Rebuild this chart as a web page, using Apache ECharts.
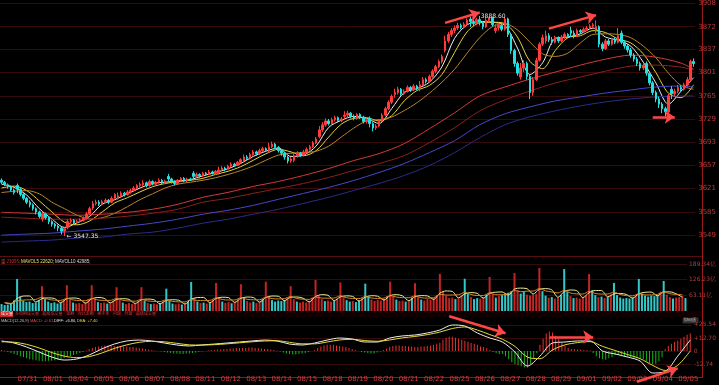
<!DOCTYPE html>
<html><head><meta charset="utf-8">
<script src="https://cdn.jsdelivr.net/npm/echarts@6/dist/echarts.min.js"></script>
<style>html,body{margin:0;padding:0;background:#000;}#c{width:719px;height:385px;}</style>
</head><body><div id="c"></div>
<script>
// ---------- data ----------
const dateLabels = ['07/30','07/31','08/01','08/04','08/05','08/06','08/07','08/08','08/11','08/12','08/13','08/14','08/15','08/18','08/19','08/20','08/21','08/22','08/25','08/26','08/27','08/28','08/29','09/01','09/02','09/03','09/04','09/05'];
const barsFirstDay = 5, barsPerDay = 8;

// [open, close, low, high] – 30 minute bars
const kline = [
[3634,3631,3628,3637],[3631,3627,3625,3633],[3627,3624,3621,3629],[3624,3619,3617,3626],[3619,3615,3612,3621],
[3626,3620,3614,3629],[3620,3612,3609,3622],[3612,3606,3603,3614],[3606,3600,3597,3608],[3600,3596,3592,3603],[3596,3590,3587,3598],[3590,3585,3581,3592],[3585,3578,3575,3587],
[3574,3582,3570,3585],[3582,3576,3573,3584],[3576,3570,3566,3578],[3570,3566,3562,3572],[3566,3563,3559,3568],[3563,3560,3555,3565],[3560,3555,3550,3562],[3555,3559,3547.35,3561],
[3561,3570,3558,3573],[3570,3572,3567,3575],[3572,3568,3565,3574],[3568,3570,3566,3573],[3570,3572,3568,3575],[3572,3575,3570,3578],[3575,3582,3573,3585],[3582,3590,3580,3593],
[3591,3598,3588,3602],[3598,3600,3595,3604],[3600,3597,3594,3603],[3597,3601,3595,3604],[3601,3603,3598,3606],[3603,3600,3597,3605],[3600,3606,3599,3609],[3606,3612,3604,3614],
[3608,3610,3604,3615],[3610,3614,3608,3617],[3614,3612,3609,3616],[3612,3616,3610,3619],[3616,3618,3613,3621],[3618,3622,3616,3625],[3622,3626,3620,3628],[3626,3628,3623,3631],
[3627,3630,3624,3634],[3630,3626,3623,3632],[3626,3632,3624,3635],[3632,3628,3626,3634],[3628,3631,3626,3633],[3631,3634,3629,3637],[3634,3630,3628,3636],[3630,3633,3628,3635],
[3640,3636,3632,3644],[3636,3632,3629,3638],[3632,3629,3626,3634],[3629,3634,3627,3636],[3634,3637,3632,3639],[3637,3633,3631,3639],[3633,3636,3631,3638],[3636,3635,3633,3638],
[3645,3640,3636,3648],[3640,3643,3638,3646],[3643,3641,3638,3645],[3641,3645,3639,3647],[3645,3644,3641,3647],[3644,3647,3642,3650],[3647,3645,3643,3649],[3645,3648,3643,3650],
[3646,3650,3643,3655],[3650,3653,3648,3656],[3653,3651,3648,3655],[3651,3656,3650,3658],[3656,3659,3654,3662],[3659,3657,3655,3661],[3657,3662,3656,3664],[3662,3666,3660,3668],
[3664,3670,3662,3674],[3670,3668,3665,3673],[3668,3674,3666,3677],[3674,3678,3672,3681],[3678,3675,3672,3680],[3675,3680,3673,3683],[3680,3683,3678,3686],[3683,3681,3678,3685],
[3680,3686,3677,3692],[3686,3690,3684,3694],[3690,3685,3682,3692],[3685,3680,3677,3687],[3680,3676,3672,3682],[3676,3670,3666,3678],[3670,3664,3660,3672],[3664,3667,3661,3670],
[3665,3672,3662,3676],[3672,3676,3669,3679],[3676,3673,3670,3678],[3673,3678,3671,3681],[3678,3682,3676,3685],[3682,3686,3680,3689],[3686,3692,3684,3695],[3692,3698,3690,3701],
[3702,3712,3699,3718],[3712,3720,3709,3724],[3720,3726,3717,3730],[3726,3722,3719,3729],[3722,3728,3720,3731],[3728,3731,3725,3734],[3731,3727,3724,3733],[3727,3729,3724,3732],
[3733,3735,3728,3741],[3735,3738,3732,3742],[3738,3733,3730,3740],[3733,3730,3727,3736],[3730,3736,3728,3738],[3736,3732,3729,3738],[3732,3725,3722,3734],[3725,3728,3722,3730],
[3730,3722,3716,3733],[3722,3715,3710,3724],[3715,3718,3712,3721],[3718,3726,3716,3729],[3726,3735,3724,3738],[3735,3745,3733,3748],[3745,3755,3743,3758],[3755,3764,3752,3767],
[3767,3770,3762,3776],[3770,3775,3767,3779],[3775,3768,3765,3777],[3768,3772,3766,3775],[3772,3778,3770,3781],[3778,3774,3771,3780],[3774,3780,3772,3783],[3780,3776,3773,3782],
[3778,3782,3772,3788],[3782,3790,3780,3794],[3790,3787,3784,3793],[3787,3795,3785,3798],[3795,3803,3793,3806],[3803,3810,3800,3813],[3810,3818,3808,3821],[3818,3826,3815,3829],
[3835,3850,3832,3858],[3850,3860,3847,3864],[3860,3866,3856,3870],[3866,3870,3862,3874],[3870,3874,3867,3878],[3874,3871,3868,3877],[3871,3876,3869,3879],[3876,3882,3874,3885],
[3884,3880,3872,3887],[3880,3877,3873,3883],[3877,3883,3875,3886],[3883,3879,3874,3888.6],[3879,3872,3868,3881],[3872,3882,3870,3886],[3882,3886,3879,3887],[3886,3875,3872,3887],
[3866,3870,3862,3876],[3870,3874,3866,3878],[3874,3868,3865,3877],[3868,3884,3866,3887],[3884,3860,3856,3886],[3860,3835,3830,3862],[3835,3815,3810,3838],[3815,3800,3796,3818],
[3794,3808,3790,3816],[3808,3815,3802,3820],[3815,3795,3790,3818],[3795,3770,3760,3798],[3770,3790,3765,3794],[3790,3820,3788,3824],[3820,3845,3818,3848],[3845,3855,3842,3860],
[3850,3858,3846,3866],[3858,3852,3848,3862],[3852,3848,3844,3856],[3848,3855,3846,3858],[3855,3850,3847,3857],[3850,3856,3848,3859],[3856,3860,3853,3863],[3860,3857,3854,3862],
[3866,3862,3856,3872],[3862,3858,3854,3866],[3858,3866,3856,3869],[3866,3864,3861,3868],[3864,3868,3862,3871],[3868,3870,3865,3873],[3870,3873,3867,3876],[3873,3875,3870,3878],
[3868,3872,3862,3882],[3872,3845,3840,3874],[3845,3838,3834,3848],[3838,3850,3836,3853],[3850,3845,3842,3853],[3845,3852,3843,3855],[3852,3848,3845,3856],[3848,3858,3846,3870],
[3862,3848,3845,3866],[3848,3842,3838,3851],[3842,3836,3832,3845],[3836,3828,3824,3839],[3828,3822,3818,3831],[3822,3815,3811,3825],[3815,3808,3804,3818],[3808,3812,3805,3815],
[3815,3800,3796,3818],[3800,3785,3781,3803],[3785,3770,3766,3788],[3770,3760,3755,3773],[3760,3752,3746,3764],[3752,3745,3738,3755],[3745,3740,3733,3748],[3740,3765,3738,3768],
[3775,3768,3760,3780],[3768,3772,3764,3776],[3772,3778,3769,3782],[3778,3775,3771,3781],[3775,3782,3773,3785],[3782,3790,3780,3794],[3790,3818,3788,3821],[3818,3815,3810,3823]
];

// volume (亿)
const volume = [
28,24,26,30,42,
129,58,42,36,38,32,34,44,
100,48,38,32,35,30,33,45,
104,46,34,30,32,28,34,48,
104,50,36,32,34,30,32,42,
96,44,34,28,32,28,30,40,
96,42,32,28,30,27,29,38,
90,40,30,27,30,26,28,36,
117,52,38,32,34,30,32,44,
113,50,38,33,36,31,35,46,
108,52,40,34,38,32,36,48,
118,56,44,38,42,40,44,52,
100,48,38,34,38,34,40,54,
125,62,48,40,42,38,40,50,
115,56,44,38,40,36,42,52,
110,58,46,40,44,42,48,60,
118,58,46,40,42,38,42,54,
112,56,46,42,48,46,52,64,
150,78,60,52,54,48,52,62,
130,70,56,48,52,50,54,66,
137,68,54,60,64,70,74,80,
153,84,70,78,66,62,66,70,
173,80,62,54,56,50,54,64,
169,76,60,52,54,50,54,62,
149,84,64,56,58,52,56,66,
113,64,54,50,52,50,54,62,
129,70,62,58,62,60,64,78,
121,66,56,50,54,56,62,52
];
// MAVOL lines, read at every odd bar (1,3,5,...,219)
const mavol5 = [33,29,
50.2,60.2,60.6,36.4, 49.6,52.8,50.6,33.6, 49.4,52.4,49.2,31.6, 49.2,54.4,51.2,32.8, 46.8,49.6,46.8,30.4,
45.2,48,45.6,29.2, 42.8,45.4,43.4,28.2, 47.4,54.2,54.6,33.2, 50.6,55.4,54,34.6, 51.2,56.2,54.4,36,
54.4,60.4,59.6,41.6, 55.6,56.4,51.6,36.8, 58.2,65.8,63.4,41.6, 57,61,58.6,40, 56,61.6,59.6,44,
62.4,66,60.8,41.6, 57.6,62,60.8,46.8, 72,80.8,78.8,53.2, 69.2,74,71.2,52, 71.8,75.8,76.6,64.4,
88.2,92.2,90.2,68.4, 87.4,90.2,85,55.2, 78.6,84.6,82.2,54, 73.8,82.6,82.2,57.2, 69,70.6,66.6,52,
69.4,75.4,76.2,61.2, 77,77,69.4,55.6];
const mavol10 = [34,31,
40,44,45.3,46.7, 55.5,47,43.7,42.6, 50.9,44.5,42.1,41.6, 50.5,44.2,42.8,42.8, 50.4,43,40.4,39.6,
47,40.6,38.6,38.2, 45.2,38.6,36.9,36.5, 46.2,42.4,42,42.7, 52.8,46.3,44.2,44.2, 53.4,46.9,45.3,45.2,
55.2,49.8,48.6,49.8, 58.2,50.2,47.4,46.8, 56.3,52.1,51.7,52.3, 61.4,53.5,50.3,49.9, 58.3,52.2,50.6,51.8,
61.8,56,53.8,53.4, 61,53.4,52,53.6, 67,64.2,64.6,65.6, 75,66.2,62.4,62.2, 72.5,65.5,65.3,69.7,
82.6,77.7,79.9,80.3, 90.2,81.1,76.7,72.7, 83.2,72.5,68.9,68.3, 79,70.5,68.3,68.5, 76,66.7,62.1,61.1,
69.4,64.7,64.9,67.1, 76.6,69.7,66.9,66.7];

// short price MAs, read every 4th bar (0,4,...,220)
const ma5 = [3628,3623,3611,3590,3574,3561,3568,3578,3597,3604,3613,3622,3629,3631,3633,3635,3641,3646,3652,3660,3671,3679,3684,3671,3673,3687,3716,3727,3733,3730,3722,3745,3770,3776,3786,3810,3854,3875,3880,3879,3874,3839,3798,3816,3854,3856,3861,3870,3856,3851,3842,3817,3785,3752,3772,3793];
const ma10 = [3622,3625,3618,3602,3585,3569,3565,3571,3585,3599,3607,3616,3624,3629,3632,3634,3637,3643,3648,3655,3665,3675,3682,3678,3672,3680,3701,3721,3730,3731,3726,3734,3757,3773,3781,3798,3832,3864,3878,3879,3877,3856,3818,3807,3835,3855,3858,3866,3863,3853,3847,3830,3801,3769,3762,3782];
const ma20 = [3615,3617,3618,3613,3600,3590,3580,3574,3576,3583,3593,3604,3613,3622,3628,3631,3634,3638,3643,3649,3656,3665,3673,3676,3677,3679,3687,3701,3715,3726,3728,3732,3742,3754,3769,3786,3806,3831,3855,3872,3877,3867,3848,3830,3826,3831,3847,3860,3861,3860,3855,3842,3824,3800,3781,3775];
// long MAs, read every 8th bar (0,8,...,216) and last bar
const maRed1 = [3584.4,3582.9,3581.4,3579.8,3581.4,3584.4,3589.1,3596.8,3607.6,3615.3,3624.5,3632.2,3641.5,3652.2,3664.6,3675.4,3690.8,3713.9,3738.5,3764.7,3778.6,3790.9,3801.7,3812.5,3821.7,3827.9,3824.8,3815.6,3806.3];
const maRed2 = [3576.8,3575.2,3573.7,3573.7,3575.2,3578.3,3582.9,3589.1,3599.9,3606.0,3613.7,3621.4,3629.1,3638.4,3649.2,3659.9,3672.3,3692.3,3715.4,3741.6,3758.6,3772.4,3784.8,3794.0,3803.2,3810.9,3812.5,3809.4,3804.8];
const maBlue1 = [3549.0,3550.6,3552.1,3555.2,3558.3,3562.9,3567.5,3573.7,3581.4,3587.5,3595.2,3604.5,3613.7,3623.0,3633.8,3646.1,3660.0,3676.9,3695.4,3720.0,3737.0,3747.8,3757.0,3763.2,3769.3,3774.0,3778.6,3780.1,3778.6];
const maBlue2 = [3538.2,3539.8,3541.3,3544.4,3545.9,3550.6,3553.6,3559.8,3567.5,3573.7,3581.4,3589.1,3598.3,3607.6,3618.3,3629.1,3641.5,3656.9,3676.9,3700.0,3720.0,3732.4,3741.6,3749.3,3755.5,3760.1,3763.2,3764.7,3764.7];

// MACD, DIFF / DEA read every 4th bar, histogram every bar
const diff = [9.8,7.8,3.9,-1,-5.9,-8.8,-7.8,-3.9,2,6.8,9.8,10.7,9.8,7.8,5.9,4.9,5.9,6.8,7.8,8.8,9.8,10.7,9.8,6.8,5.9,7.8,10.7,12.7,11.7,8.8,8.8,12.7,14.7,15.6,17.6,20.5,25.4,24.4,17.6,12.7,8.8,-1,-14.7,-4.9,7.8,8.8,9.8,9.8,0,-2.9,-5.9,-9.8,-21.5,-20,-5,10.7];
const dea = [9,8.6,6.5,3,-1.5,-5,-6.5,-5.5,-2,2.5,6,8.5,9.5,9,7.5,6,5.8,6.2,7,8,9,9.8,10,8.5,7,7,8.8,10.8,11.5,10.2,9.5,10.8,12.8,14.2,16,18.5,22,23.5,20.5,16,11.5,4.5,-6,-7.5,1,6,8.2,9.2,4.5,0.5,-3.5,-7.5,-14,-19,-14,0];
const macdHist = [
1,0.5,-1,-2,-3,
-4,-5,-6,-7,-8,-8.5,-9,-9.5,
-10,-10,-9.5,-9.5,-9,-8.5,-8,-7,
-6,-5,-4,-3,-2,-1,0.5,2,
3,4,4.5,5,5.5,5.5,5,5,
5,5,4.5,4.5,4,4,3.5,3,
2.5,2,1.5,1,0.5,0,-0.5,-1,
-1.5,-2,-2.5,-2.5,-3,-3,-2.5,-2.5,
-2,-1.5,-1,-0.5,0,0.5,1,1,
1.5,1.5,2,2,2.5,2.5,3,3,
3,3,3.5,3.5,3,3,2.5,2,
2,1.5,1,0.5,-0.5,-1.5,-2.5,-3,
-3.5,-3.5,-3,-2.5,-2,-1,0,1,
3,4.5,5.5,6,6,6,5.5,5,
4.5,4,3,2,1,0,-1,-1.5,
-2,-2.5,-2.5,-1.5,-0.5,1,2.5,4,
5,5.5,5.5,5,5,4.5,4.5,4,
4,4.5,4.5,5,5.5,6,7,8,
11,13,14,14,13,12,11,10,
9,8,7,6,4.5,4,3,1,
-1,-2,-3,-3,-5,-8,-11,-13,
-14,-15,-16,-16,-13,-8,-2,6,
12,17,19,18,15,12,8,5,
3,2,2,1.5,1.5,1,1,0.5,
-2,-5,-7,-8,-8.5,-7,-6,-4,
-4,-5,-5,-5.5,-6,-6.5,-7,-7.5,
-8,-10,-12,-13,-12.5,-10,-6,2,
5,7,9,10,12,14,16,17
];

// axis tick labels
const priceTicks = [3549,3585,3621,3657,3693,3729,3765,3801,3837,3872,3908];
const volTicks = [63.11,126.23,189.34];
const macdTicks = [-12.74,0,12.70,25.54];

// red annotation arrows: [bar index, value] start -> end
const priceArrows = [[[141,3878],[152,3894]],[[174,3869],[189,3890]],[[207,3732],[214,3732]]];
const macdArrows = [[[143,34],[161,17.3]],[[175,13.7],[189,13.7]],[[203,-30],[216,-17]]];

// ---------- build ----------
const N = kline.length;
const cats = [];
const dayStart = {};
for (let i = 0; i < N; i++) {
  const d = i < barsFirstDay ? 0 : 1 + Math.floor((i - barsFirstDay) / barsPerDay);
  const slot = i < barsFirstDay ? i : (i - barsFirstDay) % barsPerDay;
  if (i === 0 || (i >= barsFirstDay && slot === 0)) dayStart[i] = true;
  cats.push(dateLabels[d] + ' ' + i);
}
const RED = '#ff3b3b', CYAN = '#24e0e0';
const every4 = a => a.map((v, k) => [Math.min(k * 4, N - 1), v]);
const every8 = a => a.map((v, k) => [Math.min(k * 8, N - 1), v]);
const odd = a => a.map((v, k) => [2 * k + 1, v]);

const volData = volume.map((v, i) => ({ value: v, itemStyle: { color: kline[i][1] >= kline[i][0] ? '#c42424' : '#33c8c8' } }));
const histData = macdHist.map(v => ({ value: v, itemStyle: { color: v >= 0 ? '#e83030' : '#18b418' } }));

const axisTxt = { color: '#b83a3a', fontSize: 7, fontFamily: 'DejaVu Sans', margin: 3 };
const splitL = { show: true, lineStyle: { color: '#340a0a', width: 1 } };
const hiddenX = gi => ({ type: 'category', gridIndex: gi, data: cats, boundaryGap: true, show: false });
const lineS = (data, color, xi, yi, w) => ({ type: 'line', data, xAxisIndex: xi, yAxisIndex: yi, showSymbol: false, symbol: 'none', smooth: 0.3, silent: true, lineStyle: { color, width: w || 1 }, z: 3 });
const arrowLine = arr => ({
  silent: true, symbol: ['none', 'arrow'], symbolSize: 10, animation: false,
  label: { show: false }, lineStyle: { color: '#ff4646', width: 2.5, type: 'solid' },
  itemStyle: { color: '#ff4646' },
  data: arr.map(a => [{ coord: a[0] }, { coord: a[1] }])
});
const tinyFont = (px, fam) => px + 'px ' + (fam || '"Liberation Sans"');

const option = {
  backgroundColor: '#000',
  animation: false,
  grid: [
    { left: 0, right: 17, top: 0, height: 255 },
    { left: 0, right: 17, top: 264, height: 47 },
    { left: 0, right: 17, top: 314, height: 71 },
    { left: 0, right: 17, top: 376, height: 1 }
  ],
  xAxis: [
    hiddenX(0), hiddenX(1), hiddenX(2),
    { type: 'category', gridIndex: 3, data: cats, boundaryGap: true, position: 'bottom',
      axisLine: { show: true, lineStyle: { color: '#8e1616', width: 1 } }, axisTick: { show: false },
      axisLabel: { color: '#d23a3a', fontSize: 7, fontFamily: 'DejaVu Sans', margin: -1, align: 'left',
        interval: (idx) => !!dayStart[idx], formatter: v => v.split(' ')[0] },
      splitLine: { show: false } }
  ],
  yAxis: [
    { type: 'value', gridIndex: 0, position: 'right', min: 3518.2, max: 3911.1,
      axisLine: { show: false }, axisTick: { show: false, customValues: priceTicks },
      axisLabel: Object.assign({ customValues: priceTicks, formatter: v => String(v) }, axisTxt),
      splitLine: splitL },
    { type: 'value', gridIndex: 1, position: 'right', min: 0, max: 189.34,
      axisLine: { show: false }, axisTick: { show: false, customValues: volTicks },
      axisLabel: Object.assign({}, axisTxt, { fontSize: 6, margin: 2, customValues: volTicks, formatter: v => v.toFixed(2) + '亿' }),
      splitLine: splitL },
    { type: 'value', gridIndex: 2, position: 'right', min: -33.2, max: 36.15,
      axisLine: { show: false }, axisTick: { show: false, customValues: macdTicks },
      axisLabel: Object.assign({}, axisTxt, { fontSize: 6, margin: 2, customValues: macdTicks, formatter: v => v === 0 ? '0' : (v > 0 ? '+' : '') + v.toFixed(2) }),
      splitLine: splitL },
    { type: 'value', gridIndex: 3, show: false }
  ],
  series: [
    { type: 'candlestick', xAxisIndex: 0, yAxisIndex: 0, data: kline, barWidth: 2, z: 4,
      itemStyle: { color: RED, color0: CYAN, borderColor: RED, borderColor0: CYAN, borderWidth: 1 },
      markPoint: { silent: true, symbol: 'rect', symbolSize: 0.1, itemStyle: { color: 'rgba(0,0,0,0)' },
        data: [
          { type: 'max', valueDim: 'highest', label: { show: true, position: 'right', distance: 1, color: '#e0e0e0', fontSize: 6, fontFamily: 'DejaVu Sans', formatter: p => p.value.toFixed(2) } },
          { type: 'min', valueDim: 'lowest', label: { show: true, position: 'right', distance: 2, color: '#e0e0e0', fontSize: 6, fontFamily: 'DejaVu Sans', formatter: p => '← ' + p.value.toFixed(2) } }
        ] },
      markLine: arrowLine(priceArrows) },
    lineS(every4(ma5), '#f0f0f0', 0, 0),
    lineS(every4(ma10), '#e6d43a', 0, 0),
    lineS(every4(ma20), '#b8862e', 0, 0),
    lineS(every8(maRed1), '#d23a3a', 0, 0),
    lineS(every8(maRed2), '#8c2020', 0, 0),
    lineS(every8(maBlue1), '#4848c8', 0, 0),
    lineS(every8(maBlue2), '#2c2c8c', 0, 0),
    { type: 'bar', xAxisIndex: 1, yAxisIndex: 1, data: volData, barWidth: 2, silent: true },
    lineS(odd(mavol5), '#ecec9a', 1, 1),
    lineS(odd(mavol10), '#d8862a', 1, 1),
    { type: 'bar', xAxisIndex: 2, yAxisIndex: 2, data: histData, barWidth: 1, silent: true },
    Object.assign(lineS(every4(diff), '#eeeeee', 2, 2), { markLine: arrowLine(macdArrows) }),
    lineS(every4(dea), '#e4dc3c', 2, 2)
  ],
  graphic: [
    { type: 'line', shape: { x1: 702.5, y1: 0, x2: 702.5, y2: 378 }, style: { stroke: '#9a1a1a', lineWidth: 1 }, silent: true },
    { type: 'line', shape: { x1: 0, y1: 256.5, x2: 702, y2: 256.5 }, style: { stroke: '#5a0d0d', lineWidth: 1 }, silent: true },
    // volume header
    { type: 'text', x: 1, y: 259, style: { text: '量 23095;', fill: '#e23434', font: tinyFont(4.5, '"Noto Sans CJK SC"') } },
    { type: 'text', x: 21, y: 259, style: { text: 'MAVOL5 22620;', fill: '#e8e070', font: tinyFont(4.5) } },
    { type: 'text', x: 55, y: 259, style: { text: 'MAVOL10 42985;', fill: '#d8d8d8', font: tinyFont(4.5) } },
    // tab bar
    { type: 'rect', shape: { x: 0, y: 311, width: 702, height: 6 }, style: { fill: '#120000' } },
    { type: 'rect', shape: { x: 0, y: 311, width: 13, height: 6 }, style: { fill: '#c62020' } },
    { type: 'text', x: 1, y: 311.5, style: { text: '成交量', fill: '#ffffff', font: tinyFont(4, '"Noto Sans CJK SC"') } },
    { type: 'text', x: 15, y: 311.5, style: { text: '多周期成交量    超级成交量    金额    对比金额    换手率    内盘    外盘    超级成交量', fill: '#d03a3a', font: tinyFont(4, '"Noto Sans CJK SC"') } },
    // MACD header
    { type: 'text', x: 1, y: 318.5, style: { text: 'MACD(12,26,9)', fill: '#bdbdbd', font: tinyFont(4) } },
    { type: 'text', x: 30, y: 318.5, style: { text: 'MACD: -0.61,', fill: '#e24a4a', font: tinyFont(4) } },
    { type: 'text', x: 54, y: 318.5, style: { text: 'DIFF: +6.80,', fill: '#e6e6e6', font: tinyFont(4) } },
    { type: 'text', x: 77, y: 318.5, style: { text: 'DEA: +7.40', fill: '#e4dc3c', font: tinyFont(4) } },
    { type: 'rect', shape: { x: 683, y: 318, width: 15, height: 5 }, style: { fill: '#2a2a2a', stroke: '#555', lineWidth: 0.5 } },
    { type: 'text', x: 684, y: 318.5, style: { text: '指标设置', fill: '#cfcfcf', font: tinyFont(3, '"Noto Sans CJK SC"') } }
  ]
};
const chart = echarts.init(document.getElementById('c'), null, { renderer: 'canvas' });
chart.setOption(option);
</script>
</body></html>
